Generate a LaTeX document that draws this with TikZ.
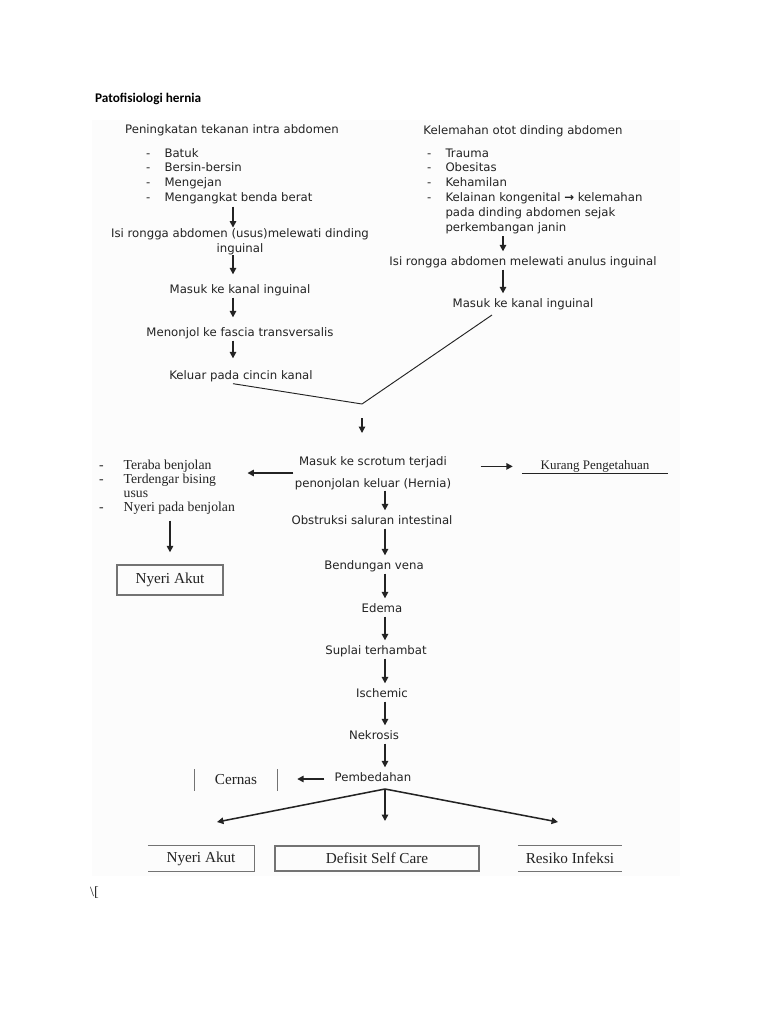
\documentclass[tikz,border=0pt]{standalone}
\usepackage{fontspec}
\setmainfont{DejaVu Sans}
\newfontfamily\tnr{Liberation Serif}
\newfontfamily\titlefont{Carlito}
\usetikzlibrary{arrows.meta,calc}
\definecolor{figK}{RGB}{35,35,35}
\definecolor{figL}{RGB}{115,115,115}
\definecolor{figBg}{RGB}{252,252,252}
\tikzset{
  txt/.style={font=\fontsize{10}{12.75}\selectfont,text=figK,inner xsep=1pt,inner ysep=0.5pt,text height=7.5pt,text depth=2.5pt},
  txtm/.style={font=\fontsize{10}{12.75}\selectfont,text=figK,inner xsep=1pt,inner ysep=0.5pt,align=center},
  ser/.style={font=\tnr\fontsize{13}{15}\selectfont,text=figK},
  arr/.style={line width=1.3pt,figK,-{Triangle[length=5.5pt,width=5.5pt]},shorten >=0.15cm},
  boxline/.style={figL,line width=1.1pt},
}

\begin{document}
\begin{tikzpicture}[x=0.03cm,y=-0.03cm]
\fill[white] (0,0) rectangle (768,1024);
\useasboundingbox (0,0) rectangle (768,1024);
\fill[figBg] (92,120) rectangle (680,876);
\node[anchor=west,font=\titlefont\bfseries\fontsize{11.3}{13}\selectfont] (title) at (91,99) {Patofisiologi hernia};
% column x positions of the arrows
\coordinate (colL) at (233,0); \coordinate (colR) at (503,0); \coordinate (colM) at (385,0);
% left column
\node[txt] (pen) at (232,131) {Peningkatan tekanan intra abdomen};
\node[anchor=base west,inner sep=0pt,text=figK,font=\fontsize{10}{12.75}\selectfont] (lista) at (146,157) {\begin{tabular}[t]{@{}l@{\hspace{12pt}}l@{}}
- & Batuk\\ - & Bersin-bersin\\ - & Mengejan\\ - & Mengangkat benda berat\end{tabular}};
\node[txtm] (isi1) at (240,241.5) {Isi rongga abdomen (usus)melewati dinding\\inguinal};
\node[txt] (masuk1) at (240,291) {Masuk ke kanal inguinal};
\node[txt] (menonjol) at (240,334) {Menonjol ke fascia transversalis};
\node[txt] (keluar) at (241,377) {Keluar pada cincin kanal};
\draw[arr,shorten >=0pt] (lista.south -| colL) -- (isi1.north -| colL);
\draw[arr,shorten >=0.3cm] (isi1.south -| colL) -- (masuk1.north -| colL);
\draw[arr,shorten >=0.3cm] (masuk1.south -| colL) -- (menonjol.north -| colL);
\draw[arr,shorten >=0.36cm] (menonjol.south -| colL) -- (keluar.north -| colL);
% right column
\node[txt] (kel) at (523,132) {Kelemahan otot dinding abdomen};
\node[anchor=base west,inner sep=0pt,text=figK,font=\fontsize{10}{12.75}\selectfont] (listb) at (427,157) {\begin{tabular}[t]{@{}l@{\hspace{12pt}}l@{}}
- & Trauma\\ - & Obesitas\\ - & Kehamilan\\ - & Kelainan kongenital {\bfseries →} kelemahan\\ & pada dinding abdomen sejak\\ & perkembangan janin\end{tabular}};
\node[txt] (isi2) at (523,263) {Isi rongga abdomen melewati anulus inguinal};
\node[txt] (masuk2) at (523,305) {Masuk ke kanal inguinal};
\draw[arr] (listb.south -| colR) -- (isi2.north -| colR);
\draw[arr] (isi2.south -| colR) -- (masuk2.north -| colR);
% joining line
\coordinate (vtip) at (362,404); \coordinate (vend) at (492,315);
\draw[figK,line width=0.8pt] (keluar.south -| colL) -- (vtip) -- (vend);
\draw[arr,line width=1.1pt,shorten >=0pt] ($(vtip)+(0,14)$) -- ($(vtip)+(0,29)$);
% middle row
\node[txtm,font=\fontsize{10}{18.8}\selectfont] (scrot) at (373,473) {Masuk ke scrotum terjadi\\penonjolan keluar (Hernia)};
\node[anchor=base west,inner sep=0pt,text=figK,font=\tnr\fontsize{11.7}{12}\selectfont] (listc) at (99,469) {\begin{tabular}[t]{@{}l@{\hspace{17pt}}l@{}}
- & Teraba benjolan\\ - & Terdengar bising\\ & usus\\ - & Nyeri pada benjolan\end{tabular}};
\node[ser,draw=figL,line width=1.2pt,minimum width=3.18cm,minimum height=0.9cm] (akut1) at (170,580) {Nyeri Akut};
\node[anchor=base,inner xsep=0pt,minimum width=4.38cm,text=figK,font=\tnr\fontsize{11.1}{13}\selectfont] (kurang) at (595,469.5) {Kurang Pengetahuan};
\draw[figK,line width=0.8pt] ([yshift=-3.8pt]kurang.base west) -- ([yshift=-3.8pt]kurang.base east);
\draw[arr,shorten >=0pt] (scrot.west) -- ++(-46,0);
\draw[arr,shorten >=0.27cm] ($(scrot.east |- kurang.west)+(28,0)$) -- (kurang.west);
\draw[arr,shorten <=0.15cm,shorten >=0.36cm] (listc.south -| akut1) -- (akut1.north);
% central chain
\node[txt] (obst) at (372,522) {Obstruksi saluran intestinal};
\node[txt] (bend) at (374,567) {Bendungan vena};
\node[txt] (edema) at (382,610) {Edema};
\node[txt] (suplai) at (376,652) {Suplai terhambat};
\node[txt] (isch) at (382,695) {Ischemic};
\node[txt] (nekro) at (374,737) {Nekrosis};
\node[txt] (pembe) at (373,779) {Pembedahan};
\foreach \a/\b in {scrot/obst,obst/bend,bend/edema,edema/suplai,suplai/isch,isch/nekro,nekro/pembe}
  \draw[arr] (\a.south -| colM) -- (\b.north -| colM);
% cernas
\node[ser,minimum width=2.46cm,minimum height=0.63cm] (cernas) at (236,780) {Cernas};
\draw[boxline] (cernas.north west) -- (cernas.south west) (cernas.north east) -- (cernas.south east);
\draw[arr,shorten <=0.27cm,shorten >=0.6cm] (pembe.west) -- (cernas.east |- pembe.west);
% branches
\coordinate (apex) at (385,789);
\coordinate (tipL) at (217,822); \coordinate (tipM) at (385,821); \coordinate (tipR) at (558,822);
\foreach \t in {tipL,tipM,tipR} \draw[arr,shorten >=0pt] (apex) -- (\t);
% bottom boxes
\node[ser,minimum width=3.18cm,minimum height=0.75cm] (akut2) at (201,858.5) {Nyeri Akut};
\draw[boxline] (akut2.north west) -- (akut2.north east) -- (akut2.south east) -- (akut2.south west);
\node[ser,draw=figL,line width=1.1pt,minimum width=6.12cm,minimum height=0.75cm] (defisit) at (377,858.5) {Defisit Self Care};
\node[ser,minimum width=3.12cm,minimum height=0.75cm] (resiko) at (570,858.5) {Resiko Infeksi};
\draw[boxline] (resiko.north west) -- (resiko.north east) (resiko.south west) -- (resiko.south east);
\node[anchor=west,text=figK,font=\tnr\fontsize{12}{14}\selectfont] (bs) at (86,893) {\textbackslash[};
\end{tikzpicture}
\end{document}
